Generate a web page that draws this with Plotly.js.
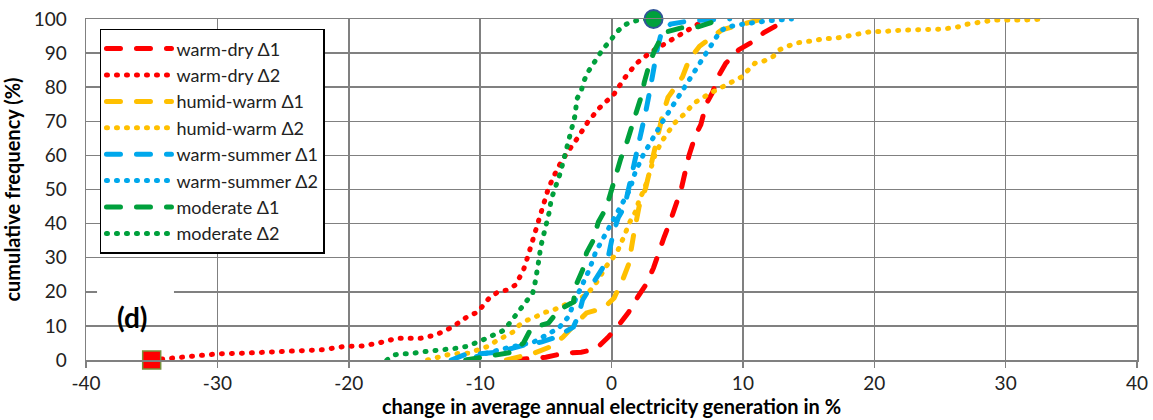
<!DOCTYPE html>
<html>
<head>
<meta charset="utf-8">
<script src="https://cdn.plot.ly/plotly-3.0.1.min.js"></script>
<style>
html,body{margin:0;padding:0;background:#fff;}
#chart{width:1153px;height:420px;}
.scatterlayer .js-line, .legend .js-line { stroke-linecap: round; }
</style>
</head>
<body>
<div id="chart"></div>
<script>
// ---- data ----
const seriesNames = ["warm-dry Δ1","warm-dry Δ2","humid-warm Δ1","humid-warm Δ2","warm-summer Δ1","warm-summer Δ2","moderate Δ1","moderate Δ2"];

const warmDry1X = [-7.5,-5,-3.6,-2.3,-1.2,-0.3,0.5,1.3,2,2.6,3.2,3.6,4,4.5,5,5.3,5.9,6.4,6.8,7.2,7.7,8.1,8.7,9.7,10.6,11.6,12.9,13.5];
const warmDry1Y = [0,0.8,2,2.3,3.2,6.5,10,14,18.5,22,27,32,36,41,46,50,60,66,69,75,78.5,83,87,91,93,96,98.8,100];

const warmDry2X = [-35,-33.6,-32,-30,-28,-25,-22,-20.3,-19,-17.7,-16.3,-14.5,-13.4,-12.1,-10.9,-10.2,-9.3,-8.7,-8,-7.3,-6.7,-6.4,-6,-5.6,-5.2,-4.8,-4.1,-3.4,-2.6,-1.8,-0.9,0.2,1,1.9,3,4.3,5.4,6.8,7.6];
const warmDry2Y = [0,0.6,1,1.8,2,2.6,3,4,4.1,5,6.4,6.4,7.3,9.7,12.9,14,18.2,19.8,20.5,22,26.4,30,35,39.6,45.5,50.4,56.3,60.7,65,69.8,74,78,82.7,87,90.3,93.3,96,99,100];

const humidWarm1X = [-8,-5.9,-4.7,-3.7,-2.9,-1.9,-0.6,0.2,0.9,1.3,1.7,2.1,2.6,2.9,3.3,3.9,4.3,5.4,5.9,6.7,7.6,8.4,10,11.5];
const humidWarm1Y = [0,2,3.8,6.7,10,13.8,15.2,18.2,24,28,37,45,50.4,56,62,72,77,83,88,92,94.7,96.8,98.5,100];

const humidWarm2X = [-14,-13.4,-13,-12.2,-10.9,-10.1,-9.4,-8.8,-8.2,-7.5,-7,-6.4,-5.8,-5.2,-4.4,-3.7,-3.1,-2.3,-1.6,-1,-0.5,0.4,0.9,1.4,1.9,2.1,2.5,2.9,3.3,3.8,4.3,4.8,5.5,6.3,7.4,8.6,9.9,10.9,11.6,12.3,12.8,13.4,14.1,15.5,16.2,17,17.7,18.4,19.7,20.5,22,24.2,25,25.7,26.4,27.1,28.5,29.2,31.4,33];
const humidWarm2Y = [0,0.6,1.2,1.8,2,3,4,5.5,6.7,8.2,10.3,11.7,12.6,13.8,14.7,16,16.7,18.2,20.5,23.5,27,31.4,35.8,40.5,44,47,50,55,60,64,67,69.5,72,75.4,78,80.6,83,87,87.7,89,91,92,93,93.7,94.3,94.3,94.7,95.3,96.3,96.3,96.7,96.7,97,97.3,97.7,98.5,99.3,99.7,99.7,100];

const warmSummer1X = [-12.2,-11.2,-10.2,-8.6,-7.5,-6.5,-5.3,-4.2,-2.9,-2.5,-2.2,-1.6,-1,-0.3,0.1,0.5,1,1.3,1.6,2,2.4,2.6,2.9,3.1,3.3,3.5,3.8,4.5,6,9];
const warmSummer1Y = [0,1.5,1.8,2.3,3.5,4.5,5.3,6.7,9.7,13.2,17.6,21.4,25.5,29.3,36.7,41.6,45,50,56.6,62,69,72.7,78.6,82.7,88,91.5,96,98.5,99.5,100];

const warmSummer2X = [-11,-9.5,-8,-5.9,-4,-3.3,-2.6,-2.1,-1.7,-1.2,-0.6,-0.2,0.2,0.6,1.1,1.4,1.8,2.4,3,3.5,3.9,4.7,5.5,6.2,7,7.7,8.2,8.7,10,12,13.7];
const warmSummer2Y = [0,2,3.5,5.3,9.4,12.6,19,23,26.4,31.7,36,38.7,41.6,44,47.8,50,55,60,64,67.4,70,74.8,79.8,84,89,93.3,96,97.6,98.5,99.5,100];

const moderate1X = [-11.1,-8.8,-7.5,-6.7,-6.1,-4.8,-4,-2.9,-2.7,-2.2,-1.9,-1.4,-1,-0.4,0,0.4,0.7,1.1,1.5,1.9,2.3,2.5,2.9,3.3,4,5.3,6.6,7.6,8.5];
const moderate1Y = [0,1.5,2.3,5,9.4,10.8,14.7,17,22,26.4,31.4,35,40.5,44.6,50,55,59,63,68,72.4,77.7,81.5,87,91,96,97.4,97.7,99,100];

const moderate2X = [-17.1,-16.5,-16.1,-15.3,-14.6,-13.9,-13.2,-12.4,-11.7,-11,-10.3,-9.6,-9,-8.3,-7.8,-7,-6.5,-6,-5.8,-5.6,-5.5,-5.4,-5.2,-5,-4.8,-4.7,-4.6,-4.4,-4.1,-3.9,-3.7,-3.5,-3.2,-3,-2.8,-2.7,-2.6,-2.3,-2.1,-1.8,-1.4,-1,-0.6,-0.1,0.3,0.9,1.4,2.1,3.2];
const moderate2Y = [0,1.5,1.8,1.8,2.3,2.6,2.6,3.2,3.5,4,5.3,6.2,7.3,8.5,10.6,14.7,17,19.6,23,27,30,33,36,38.7,41.6,44,47,49,52,54.8,57.8,60.7,66,68.3,71.3,74.2,76.8,79,81.8,84.4,86.8,89,91.5,93.5,95.8,98,99,99.7,100];

// highlighted extreme points
const minPointX = [-35], minPointY = [0];
const maxPointX = [3.2], maxPointY = [100];

const xTicks = [-40,-30,-20,-10,0,10,20,30,40];
const yTicks = [0,10,20,30,40,50,60,70,80,90,100];

const xTitle = "change in average annual electricity generation in %";
const yTitle = "cumulative frequency (%)";
const panelLabel = "(d)";

// ---- styles ----
const RED = "#FF0000", ORANGE = "#FFC000", BLUE = "#00A8EC", GREEN = "#00A03C";
const DASH = "14px,16px", DOT = "1px,9px";
const FONT = "Lato, 'Open Sans', sans-serif";

function line(name, x, y, color, dash) {
  return {type:"scatter", mode:"lines", name:name, x:x, y:y,
          line:{color:color, width:5, dash:dash, shape:"linear"}, hoverinfo:"skip"};
}

const traces = [
  line(seriesNames[0], warmDry1X, warmDry1Y, RED, DASH),
  line(seriesNames[1], warmDry2X, warmDry2Y, RED, DOT),
  line(seriesNames[2], humidWarm1X, humidWarm1Y, ORANGE, DASH),
  line(seriesNames[3], humidWarm2X, humidWarm2Y, ORANGE, DOT),
  line(seriesNames[4], warmSummer1X, warmSummer1Y, BLUE, DASH),
  line(seriesNames[5], warmSummer2X, warmSummer2Y, BLUE, DOT),
  line(seriesNames[6], moderate1X, moderate1Y, GREEN, DASH),
  line(seriesNames[7], moderate2X, moderate2Y, GREEN, DOT),
  {type:"scatter", mode:"markers", x:minPointX, y:minPointY, showlegend:false, cliponaxis:false,
   marker:{symbol:"square", size:18, color:RED, line:{color:"#77933C", width:1.5}}},
  {type:"scatter", mode:"markers", x:maxPointX, y:maxPointY, showlegend:false, cliponaxis:false,
   marker:{symbol:"circle", size:18, color:GREEN, line:{color:"#2F5597", width:2}}}
];

const layout = {
  width:1153, height:420,
  margin:{l:86, r:16, t:19, b:60},
  paper_bgcolor:"#fff", plot_bgcolor:"#fff",
  font:{family:FONT, color:"#222", size:19},
  showlegend:true,
  legend:{x:0.0133, y:0.971, xanchor:"left", yanchor:"top", bgcolor:"#fff",
          bordercolor:"#000", borderwidth:1.5, font:{family:FONT, size:18, color:"#222"},
          tracegroupgap:0, itemwidth:65, entrywidth:220},
  xaxis:{range:[-40,40], tickvals:xTicks, ticktext:xTicks.map(String), showgrid:true,
         gridcolor:"#808080", gridwidth:1.5, zeroline:true, zerolinecolor:"#808080", zerolinewidth:2,
         showline:true, linecolor:"#808080", linewidth:1.5, mirror:true,
         ticks:"outside", ticklen:6, tickcolor:"#808080", tickwidth:1.5,
         tickfont:{size:19, color:"#222"},
         title:{text:xTitle, font:{size:20, color:"#000", family:FONT, weight:"bold"}, standoff:6}},
  yaxis:{range:[0,100], tickvals:yTicks, ticktext:yTicks.map(String), showgrid:true,
         gridcolor:"#808080", gridwidth:1.5, zeroline:false,
         showline:true, linecolor:"#808080", linewidth:1.5, mirror:true,
         ticks:"", ticklabelstandoff:14, tickfont:{size:19, color:"#222"},
         title:{text:yTitle, font:{size:20, color:"#000", family:FONT, weight:"bold"}, standoff:8}},
  shapes:[{type:"rect", xref:"paper", yref:"paper", x0:0.0105, x1:0.0837, y0:0.115, y1:0.22,
           fillcolor:"#fff", line:{width:0}, layer:"above"}],
  annotations:[{xref:"paper", yref:"paper", x:0.0447, y:0.126, text:panelLabel, showarrow:false,
                font:{family:FONT, size:28, color:"#000", weight:"bold"}, xanchor:"center", yanchor:"middle"}]
};

Plotly.newPlot("chart", traces, layout, {displayModeBar:false, staticPlot:true});
</script>
</body>
</html>
